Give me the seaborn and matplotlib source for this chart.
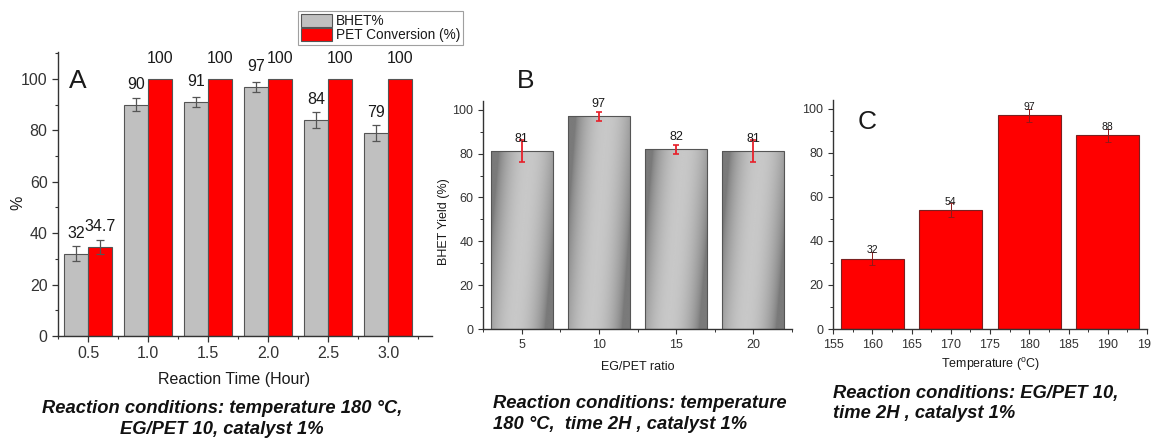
import numpy as np
import pandas as pd
import matplotlib
matplotlib.use("Agg")
import matplotlib.pyplot as plt
from matplotlib.ticker import MultipleLocator, FixedLocator, FormatStrFormatter
from matplotlib.colors import LinearSegmentedColormap
from matplotlib.container import BarContainer
from matplotlib.patches import Patch
import seaborn as sns

# ---------------- data ----------------
time_labels = ["0.5", "1.0", "1.5", "2.0", "2.5", "3.0"]
bhet_time = [32, 90, 91, 97, 84, 79]
bhet_time_err = [3, 2.6, 2, 2, 3, 3]
pet_conv = [34.7, 100, 100, 100, 100, 100]
pet_conv_err = [2.7, 0, 0, 0, 0, 0]
pet_labels = ["34.7", "100", "100", "100", "100", "100"]
series_names = ["BHET%", "PET Conversion (%)"]

ratio_labels = ["5", "10", "15", "20"]
bhet_ratio = [81, 97, 82, 81]
bhet_ratio_err = [5, 2, 2, 5]

temps = [160, 170, 180, 190]
bhet_temp = [32, 54, 97, 88]
bhet_temp_err = [3, 3, 3, 3]

caption_a = "Reaction conditions: temperature 180 °C,\nEG/PET 10, catalyst 1%"
caption_b = "Reaction conditions: temperature\n180 °C,  time 2H , catalyst 1%"
caption_c = "Reaction conditions: EG/PET 10,\ntime 2H , catalyst 1%"

# ---------------- style ----------------
sns.set_style("ticks")
plt.rcParams["font.family"] = ["Liberation Sans", "DejaVu Sans"]
plt.rcParams["axes.edgecolor"] = "#333333"
plt.rcParams["axes.linewidth"] = 1.0
plt.rcParams["xtick.color"] = "#333333"
plt.rcParams["ytick.color"] = "#333333"
plt.rcParams["xtick.direction"] = "out"
plt.rcParams["ytick.direction"] = "out"
plt.rcParams["text.color"] = "#1a1a1a"
plt.rcParams["axes.labelcolor"] = "#1a1a1a"

fig = plt.figure(figsize=(11.51, 4.38), dpi=100)

W, H = 1151, 438
def rect(l, t, r, b):
    return [l / W, 1 - b / H, (r - l) / W, (b - t) / H]

axA = fig.add_axes(rect(58, 52, 432, 336))
axB = fig.add_axes(rect(483, 101, 792, 329))
axC = fig.add_axes(rect(833, 100, 1147, 329))

def bar_containers(ax):
    return [c for c in ax.containers if isinstance(c, BarContainer)]

# ---------------- panel A ----------------
dfA = pd.DataFrame({
    "time": time_labels * 2,
    "value": bhet_time + pet_conv,
    "series": [series_names[0]] * len(time_labels) + [series_names[1]] * len(time_labels),
})
sns.barplot(data=dfA, x="time", y="value", hue="series", order=time_labels,
            hue_order=series_names, palette=["#c0c0c0", "#ff0000"],
            errorbar=None, width=0.8, edgecolor="#555555", linewidth=0.8,
            saturation=1, ax=axA, legend=False)

errs_A = [bhet_time_err, pet_conv_err]
labs_A = [[str(v) for v in bhet_time], pet_labels]
for ci, cont in enumerate(bar_containers(axA)):
    for pi, p in enumerate(cont.patches):
        cx = p.get_x() + p.get_width() / 2
        h = p.get_height()
        if errs_A[ci][pi] > 0:
            axA.errorbar(cx, h, yerr=errs_A[ci][pi], fmt="none", ecolor="#555555",
                         elinewidth=0.9, capsize=3, capthick=0.9, zorder=5)
        axA.text(cx, h + 8, labs_A[ci][pi], ha="center", va="center", fontsize=11.5)

axA.set_xlim(-0.5, 5.73)
axA.set_ylim(0, 110.5)
axA.yaxis.set_major_locator(FixedLocator([0, 20, 40, 60, 80, 100]))
axA.yaxis.set_minor_locator(MultipleLocator(10))
axA.xaxis.set_minor_locator(FixedLocator(np.arange(-0.5, 6, 1.0)))
axA.tick_params(axis="both", which="major", labelsize=11.5, length=4, width=0.9)
axA.tick_params(axis="both", which="minor", length=2.5, width=0.8)
axA.set_xlabel("Reaction Time (Hour)", fontsize=11.5)
axA.set_ylabel("%", fontsize=11.5)
axA.xaxis.set_label_coords(0.47, -0.127)
axA.yaxis.set_label_coords(-0.088, 0.47)
sns.despine(ax=axA)
axA.text(0.053, 0.898, "A", transform=axA.transAxes, fontsize=19, ha="center", va="center")

handles = [Patch(facecolor="#c0c0c0", edgecolor="#555555", linewidth=0.8),
           Patch(facecolor="#ff0000", edgecolor="#555555", linewidth=0.8)]
leg = fig.legend(handles, series_names, loc="upper left",
                 bbox_to_anchor=(298 / W, 1 - 11 / H), bbox_transform=fig.transFigure,
                 fontsize=9.8, frameon=True, fancybox=False, edgecolor="#888888",
                 handlelength=2.3, handleheight=1.1, handletextpad=0.3,
                 labelspacing=0.0, borderpad=0.2, borderaxespad=0)
leg.get_frame().set_linewidth(0.8)

# ---------------- panel B ----------------
dfB = pd.DataFrame({"ratio": ratio_labels, "value": bhet_ratio})
sns.barplot(data=dfB, x="ratio", y="value", order=ratio_labels, color="#a0a0a0",
            errorbar=None, width=0.8, edgecolor="#555555", linewidth=0.8,
            saturation=1, ax=axB)

cmap = LinearSegmentedColormap.from_list("g", ["#7a7a7a", "#c8c8c8"])
uu, vv = np.meshgrid(np.linspace(0, 1, 120), np.linspace(0, 1, 200))
ss = np.clip(uu - 0.25 * (vv - 0.5), 0, 1)
grad = np.sin(np.pi * ss) ** 0.7
barsB = bar_containers(axB)[0].patches
for p in barsB:
    x0, w, h = p.get_x(), p.get_width(), p.get_height()
    im = axB.imshow(grad, extent=[x0, x0 + w, 0, h], origin="lower", cmap=cmap,
                    aspect="auto", zorder=p.get_zorder(), interpolation="bilinear")
    im.set_clip_path(p)
    p.set_facecolor("none")
    p.set_zorder(p.get_zorder() + 0.1)

for pi, p in enumerate(barsB):
    cx = p.get_x() + p.get_width() / 2
    h = p.get_height()
    axB.errorbar(cx, h, yerr=bhet_ratio_err[pi], fmt="none", ecolor="#e8202a",
                 elinewidth=1.3, capsize=2.5, capthick=1.2, zorder=6)
    axB.text(cx, h + 5.7, str(bhet_ratio[pi]), ha="center", va="center", fontsize=9, zorder=7)

axB.set_xlim(-0.5, 3.5)
axB.set_ylim(0, 104)
axB.yaxis.set_major_locator(FixedLocator([0, 20, 40, 60, 80, 100]))
axB.yaxis.set_minor_locator(MultipleLocator(10))
axB.xaxis.set_minor_locator(FixedLocator(np.arange(-0.5, 4, 1.0)))
axB.tick_params(axis="both", which="major", labelsize=9, length=3.5, width=0.8)
axB.tick_params(axis="both", which="minor", length=2, width=0.7)
axB.set_xlabel("EG/PET ratio", fontsize=9)
axB.set_ylabel("BHET Yield (%)", fontsize=9)
axB.xaxis.set_label_coords(0.5, -0.14)
axB.yaxis.set_label_coords(-0.107, 0.47)
sns.despine(ax=axB)
fig.text(526 / W, 1 - 81 / H, "B", fontsize=19, ha="center", va="center")

# ---------------- panel C ----------------
dfC = pd.DataFrame({"temp": temps, "value": bhet_temp})
sns.barplot(data=dfC, x="temp", y="value", native_scale=True, color="#ff0000",
            errorbar=None, width=0.8, edgecolor="#7a2020", linewidth=0.8,
            saturation=1, ax=axC)
barsC = bar_containers(axC)[0].patches
for pi, p in enumerate(barsC):
    cx = p.get_x() + p.get_width() / 2
    h = p.get_height()
    axC.errorbar(cx, h, yerr=bhet_temp_err[pi], fmt="none", ecolor="#8b1a1a",
                 elinewidth=0.7, capsize=2, capthick=0.6, zorder=6)
    axC.text(cx, h + 3.7, str(bhet_temp[pi]), ha="center", va="center", fontsize=7.5, zorder=7)

axC.set_xlim(155, 195)
axC.set_ylim(0, 104)
axC.xaxis.set_major_locator(MultipleLocator(5))
axC.xaxis.set_minor_locator(MultipleLocator(2.5))
axC.xaxis.set_major_formatter(FormatStrFormatter("%d"))
axC.yaxis.set_major_locator(FixedLocator([0, 20, 40, 60, 80, 100]))
axC.yaxis.set_minor_locator(MultipleLocator(10))
axC.tick_params(axis="both", which="major", labelsize=9, length=3.5, width=0.8)
axC.tick_params(axis="both", which="minor", length=2, width=0.7)
axC.set_xlabel(r"Temperature ($^{\mathregular{o}}$C)", fontsize=9)
axC.set_ylabel("")
axC.xaxis.set_label_coords(0.5, -0.12)
sns.despine(ax=axC)
axC.text(0.108, 0.904, "C", transform=axC.transAxes, fontsize=19, ha="center", va="center")

# ---------------- captions ----------------
cap_kw = dict(fontsize=13.2, fontweight="bold", fontstyle="italic", color="#111111",
              linespacing=1.3)
fig.text(222 / W, 1 - 419 / H, caption_a, ha="center", va="center",
         multialignment="center", **cap_kw)
fig.text(493 / W, 1 - 414 / H, caption_b, ha="left", va="center", **cap_kw)
fig.text(833 / W, 1 - 403.5 / H, caption_c, ha="left", va="center", **cap_kw)

fig.savefig("out.png", dpi=100)
